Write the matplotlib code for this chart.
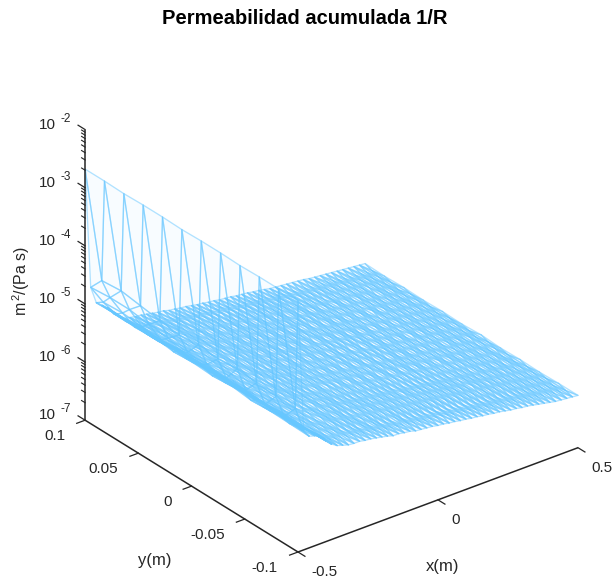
import numpy as np
import matplotlib
matplotlib.use('Agg')
import matplotlib.pyplot as plt
from mpl_toolkits.mplot3d import proj3d

plt.rcParams['font.family'] = ['Liberation Sans', 'DejaVu Sans']
plt.rcParams['mathtext.default'] = 'regular'

title = 'Permeabilidad acumulada 1/R'
x_ticks = [-0.5, 0, 0.5]
x_labels = ['-0.5', '0', '0.5']
y_ticks = [0.1, 0.05, 0, -0.05, -0.1]
y_labels = ['0.1', '0.05', '0', '-0.05', '-0.1']
z_decades = [-7, -6, -5, -4, -3, -2]

# staggered mesh: even rows sit on y_even, odd rows on y_odd (between them)
x_nodes = [-0.5, -0.475, -0.48, -0.47, -0.46, -0.45, -0.44, -0.43, -0.42, -0.41, -0.40,
           -0.39, -0.38, -0.37, -0.36, -0.35, -0.34, -0.33, -0.32, -0.31, -0.30,
           -0.29, -0.28, -0.27, -0.26, -0.25, -0.24, -0.23, -0.22, -0.21, -0.20,
           -0.19, -0.18, -0.17, -0.16, -0.15, -0.14, -0.13, -0.12, -0.11, -0.10,
           -0.09, -0.08, -0.07, -0.06, -0.05, -0.04, -0.03, -0.02, -0.01, 0.0,
           0.01, 0.02, 0.03, 0.04, 0.05, 0.06, 0.07, 0.08, 0.09, 0.10,
           0.11, 0.12, 0.13, 0.14, 0.15, 0.16, 0.17, 0.18, 0.19, 0.20,
           0.21, 0.22, 0.23, 0.24, 0.25, 0.26, 0.27, 0.28, 0.29, 0.30,
           0.31, 0.32, 0.33, 0.34, 0.35, 0.36, 0.37, 0.38, 0.39, 0.40,
           0.41, 0.42, 0.43, 0.44, 0.45, 0.46, 0.47, 0.48, 0.49, 0.50]
y_even = [0.1, 0.0818, 0.0636, 0.0455, 0.0273, 0.0091, -0.0091, -0.0273, -0.0455, -0.0636, -0.0818, -0.1]
y_odd = [0.0909, 0.0727, 0.0545, 0.0364, 0.0182, 0.0, -0.0182, -0.0364, -0.0545, -0.0727, -0.0909]

# log10 of permeability, one row per x node
log_perm = [
    [-2.68, -2.68, -2.69, -2.68, -2.68, -2.69, -2.68, -2.68, -2.69, -2.68, -2.68, -2.68],
    [-4.54, -4.51, -4.56, -4.61, -4.65, -4.61, -4.65, -4.61, -4.65, -4.68, -4.68],
    [-4.75, -4.72, -4.72, -4.77, -4.80, -4.84, -4.84, -4.87, -4.87, -4.91, -4.91, -4.94],
    [-4.92, -4.90, -4.93, -4.95, -4.93, -4.96, -4.95, -4.97, -4.96, -4.98, -4.99],
    [-5.05, -5.04, -5.06, -5.03, -5.07, -5.05, -5.07, -5.04, -5.08, -5.06, -5.07, -5.08],
    [-5.09, -5.08, -5.10, -5.07, -5.10, -5.08, -5.10, -5.08, -5.11, -5.09, -5.10],
    [-5.13, -5.13, -5.14, -5.11, -5.13, -5.09, -5.13, -5.10, -5.13, -5.11, -5.12, -5.11],
    [-5.17, -5.16, -5.17, -5.15, -5.13, -5.16, -5.14, -5.16, -5.14, -5.15, -5.13],
    [-5.21, -5.22, -5.23, -5.20, -5.20, -5.16, -5.19, -5.17, -5.20, -5.17, -5.18, -5.16],
    [-5.28, -5.27, -5.29, -5.25, -5.25, -5.22, -5.25, -5.23, -5.25, -5.23, -5.22],
    [-5.34, -5.32, -5.34, -5.30, -5.29, -5.31, -5.29, -5.31, -5.29, -5.30, -5.28, -5.27],
    [-5.39, -5.37, -5.38, -5.35, -5.35, -5.34, -5.35, -5.35, -5.33, -5.34, -5.32],
    [-5.43, -5.41, -5.42, -5.40, -5.41, -5.38, -5.41, -5.39, -5.38, -5.40, -5.37, -5.36],
    [-5.46, -5.44, -5.45, -5.42, -5.44, -5.41, -5.42, -5.42, -5.40, -5.42, -5.39],
    [-5.50, -5.47, -5.48, -5.45, -5.47, -5.45, -5.44, -5.46, -5.44, -5.45, -5.43, -5.42],
    [-5.51, -5.49, -5.50, -5.47, -5.48, -5.46, -5.47, -5.46, -5.46, -5.45, -5.44],
    [-5.52, -5.50, -5.51, -5.48, -5.49, -5.47, -5.49, -5.47, -5.48, -5.46, -5.47, -5.45],
    [-5.53, -5.51, -5.50, -5.50, -5.48, -5.49, -5.48, -5.48, -5.47, -5.47, -5.46],
    [-5.54, -5.52, -5.50, -5.52, -5.49, -5.51, -5.49, -5.50, -5.48, -5.49, -5.47, -5.48],
    [-5.55, -5.53, -5.52, -5.51, -5.51, -5.50, -5.50, -5.50, -5.49, -5.48, -5.48],
    [-5.55, -5.53, -5.54, -5.51, -5.53, -5.50, -5.52, -5.49, -5.51, -5.50, -5.48, -5.49],
    [-5.56, -5.54, -5.53, -5.53, -5.51, -5.52, -5.51, -5.50, -5.50, -5.50, -5.49],
    [-5.57, -5.54, -5.52, -5.54, -5.51, -5.53, -5.52, -5.50, -5.52, -5.49, -5.51, -5.49],
    [-5.58, -5.55, -5.54, -5.53, -5.53, -5.52, -5.52, -5.51, -5.51, -5.50, -5.50],
    [-5.59, -5.57, -5.56, -5.54, -5.56, -5.53, -5.55, -5.52, -5.54, -5.52, -5.53, -5.51],
    [-5.60, -5.58, -5.57, -5.56, -5.56, -5.54, -5.55, -5.54, -5.54, -5.53, -5.52],
    [-5.61, -5.58, -5.59, -5.56, -5.55, -5.57, -5.54, -5.56, -5.53, -5.55, -5.54, -5.52],
    [-5.62, -5.60, -5.58, -5.58, -5.56, -5.57, -5.56, -5.55, -5.55, -5.54, -5.54],
    [-5.62, -5.61, -5.58, -5.60, -5.57, -5.59, -5.56, -5.58, -5.57, -5.55, -5.57, -5.54],
    [-5.64, -5.62, -5.61, -5.59, -5.59, -5.58, -5.58, -5.58, -5.56, -5.57, -5.55],
    [-5.65, -5.62, -5.63, -5.60, -5.59, -5.61, -5.58, -5.60, -5.57, -5.59, -5.57, -5.56],
    [-5.65, -5.63, -5.62, -5.61, -5.60, -5.60, -5.60, -5.59, -5.58, -5.59, -5.57],
    [-5.66, -5.64, -5.62, -5.64, -5.61, -5.62, -5.60, -5.62, -5.59, -5.61, -5.60, -5.58],
    [-5.67, -5.65, -5.64, -5.63, -5.63, -5.61, -5.62, -5.61, -5.61, -5.60, -5.59],
    [-5.68, -5.65, -5.66, -5.63, -5.65, -5.62, -5.64, -5.61, -5.63, -5.62, -5.60, -5.61],
    [-5.69, -5.66, -5.65, -5.65, -5.63, -5.64, -5.63, -5.63, -5.62, -5.61, -5.61],
    [-5.69, -5.67, -5.65, -5.67, -5.64, -5.66, -5.63, -5.65, -5.64, -5.62, -5.64, -5.61],
    [-5.70, -5.68, -5.67, -5.66, -5.66, -5.65, -5.65, -5.65, -5.64, -5.63, -5.63],
    [-5.71, -5.68, -5.69, -5.66, -5.68, -5.65, -5.67, -5.64, -5.66, -5.64, -5.65, -5.63],
    [-5.72, -5.70, -5.68, -5.68, -5.66, -5.67, -5.67, -5.66, -5.65, -5.65, -5.64],
    [-5.73, -5.70, -5.68, -5.70, -5.67, -5.69, -5.68, -5.66, -5.68, -5.65, -5.67, -5.64],
    [-5.74, -5.71, -5.70, -5.70, -5.68, -5.69, -5.68, -5.68, -5.67, -5.66, -5.66],
    [-5.74, -5.71, -5.72, -5.69, -5.71, -5.68, -5.70, -5.67, -5.69, -5.68, -5.66, -5.67],
    [-5.75, -5.73, -5.71, -5.71, -5.69, -5.70, -5.69, -5.69, -5.69, -5.67, -5.67],
    [-5.76, -5.73, -5.71, -5.73, -5.70, -5.72, -5.69, -5.71, -5.70, -5.68, -5.70, -5.68],
    [-5.76, -5.74, -5.73, -5.72, -5.72, -5.71, -5.71, -5.71, -5.70, -5.69, -5.69],
    [-5.77, -5.74, -5.75, -5.72, -5.74, -5.71, -5.73, -5.70, -5.72, -5.70, -5.71, -5.69],
    [-5.78, -5.76, -5.74, -5.74, -5.72, -5.73, -5.72, -5.72, -5.71, -5.71, -5.70],
    [-5.79, -5.76, -5.74, -5.76, -5.73, -5.75, -5.72, -5.74, -5.73, -5.71, -5.73, -5.70],
    [-5.79, -5.77, -5.76, -5.75, -5.75, -5.74, -5.74, -5.73, -5.73, -5.72, -5.72],
    [-5.80, -5.77, -5.78, -5.75, -5.77, -5.74, -5.76, -5.73, -5.75, -5.73, -5.74, -5.72],
    [-5.81, -5.78, -5.77, -5.76, -5.76, -5.75, -5.75, -5.75, -5.74, -5.74, -5.73],
    [-5.81, -5.79, -5.77, -5.79, -5.76, -5.78, -5.75, -5.77, -5.76, -5.74, -5.76, -5.73],
    [-5.82, -5.80, -5.79, -5.78, -5.78, -5.76, -5.77, -5.76, -5.76, -5.75, -5.74],
    [-5.83, -5.80, -5.81, -5.78, -5.80, -5.77, -5.79, -5.76, -5.78, -5.76, -5.77, -5.75],
    [-5.83, -5.81, -5.79, -5.79, -5.78, -5.78, -5.78, -5.78, -5.76, -5.77, -5.75],
    [-5.84, -5.82, -5.80, -5.82, -5.79, -5.81, -5.78, -5.80, -5.79, -5.77, -5.79, -5.76],
    [-5.85, -5.82, -5.82, -5.81, -5.80, -5.80, -5.79, -5.79, -5.79, -5.78, -5.77],
    [-5.85, -5.83, -5.84, -5.81, -5.83, -5.80, -5.82, -5.79, -5.81, -5.79, -5.80, -5.78],
    [-5.86, -5.84, -5.82, -5.83, -5.81, -5.81, -5.81, -5.80, -5.80, -5.79, -5.79],
    [-5.87, -5.85, -5.83, -5.85, -5.82, -5.84, -5.81, -5.83, -5.82, -5.80, -5.82, -5.79],
    [-5.88, -5.85, -5.84, -5.84, -5.83, -5.82, -5.82, -5.82, -5.81, -5.81, -5.80],
    [-5.88, -5.86, -5.87, -5.84, -5.86, -5.83, -5.85, -5.82, -5.84, -5.82, -5.83, -5.81],
    [-5.89, -5.87, -5.85, -5.86, -5.84, -5.84, -5.84, -5.83, -5.83, -5.82, -5.82],
    [-5.90, -5.88, -5.86, -5.88, -5.85, -5.87, -5.84, -5.86, -5.85, -5.83, -5.85, -5.82],
    [-5.91, -5.88, -5.87, -5.87, -5.86, -5.85, -5.85, -5.85, -5.84, -5.84, -5.83],
    [-5.92, -5.89, -5.90, -5.87, -5.89, -5.86, -5.88, -5.85, -5.87, -5.85, -5.86, -5.84],
    [-5.93, -5.90, -5.89, -5.89, -5.87, -5.87, -5.87, -5.86, -5.86, -5.85, -5.85],
    [-5.93, -5.91, -5.89, -5.91, -5.88, -5.90, -5.87, -5.89, -5.88, -5.86, -5.88, -5.85],
    [-5.94, -5.92, -5.91, -5.90, -5.90, -5.88, -5.89, -5.88, -5.88, -5.87, -5.87],
    [-5.94, -5.92, -5.93, -5.90, -5.92, -5.89, -5.91, -5.88, -5.90, -5.88, -5.89, -5.87],
    [-5.95, -5.93, -5.92, -5.92, -5.90, -5.91, -5.90, -5.90, -5.89, -5.89, -5.88],
    [-5.95, -5.94, -5.92, -5.94, -5.91, -5.93, -5.90, -5.92, -5.91, -5.89, -5.91, -5.88],
    [-5.96, -5.95, -5.94, -5.93, -5.93, -5.92, -5.92, -5.91, -5.91, -5.90, -5.90],
    [-5.96, -5.95, -5.95, -5.93, -5.95, -5.92, -5.94, -5.91, -5.93, -5.91, -5.92, -5.90],
    [-5.97, -5.96, -5.94, -5.95, -5.93, -5.94, -5.93, -5.93, -5.92, -5.92, -5.91],
    [-5.97, -5.96, -5.94, -5.96, -5.93, -5.95, -5.93, -5.94, -5.93, -5.91, -5.93, -5.92],
    [-5.98, -5.97, -5.96, -5.95, -5.95, -5.94, -5.94, -5.94, -5.93, -5.93, -5.93],
    [-5.98, -5.97, -5.98, -5.95, -5.97, -5.94, -5.96, -5.93, -5.95, -5.93, -5.95, -5.93],
    [-5.99, -5.98, -5.97, -5.97, -5.96, -5.96, -5.95, -5.95, -5.95, -5.94, -5.94],
    [-6.00, -5.99, -5.97, -5.99, -5.96, -5.98, -5.95, -5.97, -5.96, -5.95, -5.96, -5.95],
    [-6.00, -5.99, -5.99, -5.98, -5.98, -5.97, -5.97, -5.96, -5.97, -5.96, -5.96],
    [-6.01, -5.99, -6.00, -5.97, -5.99, -5.96, -5.98, -5.96, -5.98, -5.96, -5.98, -5.96],
    [-6.01, -6.00, -5.99, -5.99, -5.98, -5.98, -5.98, -5.97, -5.98, -5.97, -5.97],
    [-6.02, -6.01, -5.99, -6.01, -5.98, -6.00, -5.98, -5.99, -5.98, -5.98, -5.99, -5.98],
    [-6.02, -6.01, -6.01, -6.00, -6.00, -5.99, -6.00, -5.99, -5.99, -5.99, -5.99],
    [-6.03, -6.01, -6.02, -6.00, -6.01, -5.99, -6.01, -5.99, -6.01, -5.99, -6.01, -6.00],
    [-6.04, -6.02, -6.02, -6.01, -6.01, -6.01, -6.00, -6.01, -6.00, -6.01, -6.01],
    [-6.04, -6.03, -6.02, -6.03, -6.01, -6.02, -6.00, -6.02, -6.01, -6.01, -6.02, -6.02],
    [-6.05, -6.03, -6.04, -6.02, -6.03, -6.01, -6.02, -6.02, -6.02, -6.02, -6.03],
    [-6.05, -6.04, -6.05, -6.03, -6.04, -6.02, -6.03, -6.02, -6.04, -6.03, -6.04, -6.04],
    [-6.06, -6.04, -6.04, -6.04, -6.03, -6.04, -6.03, -6.04, -6.03, -6.04, -6.05],
    [-6.06, -6.05, -6.04, -6.05, -6.04, -6.05, -6.03, -6.05, -6.04, -6.05, -6.05, -6.06],
    [-6.07, -6.05, -6.06, -6.05, -6.05, -6.05, -6.05, -6.05, -6.05, -6.06, -6.06],
    [-6.07, -6.06, -6.07, -6.05, -6.06, -6.05, -6.06, -6.05, -6.07, -6.06, -6.07, -6.07],
    [-6.08, -6.07, -6.07, -6.06, -6.07, -6.06, -6.07, -6.06, -6.07, -6.07, -6.08],
    [-6.08, -6.08, -6.07, -6.08, -6.07, -6.08, -6.06, -6.08, -6.07, -6.08, -6.08, -6.08],
    [-6.09, -6.09, -6.08, -6.08, -6.08, -6.08, -6.08, -6.09, -6.08, -6.09, -6.09],
    [-6.09, -6.09, -6.10, -6.08, -6.09, -6.08, -6.09, -6.08, -6.10, -6.09, -6.10, -6.09],
    [-6.10, -6.10, -6.09, -6.10, -6.09, -6.10, -6.09, -6.10, -6.10, -6.10, -6.10],
    [-6.10, -6.11, -6.10, -6.11, -6.10, -6.11, -6.09, -6.11, -6.10, -6.11, -6.10, -6.10],
]

W, H = 612, 579
AXC = '#262626'
EDGE = (0.40, 0.78, 1.0, 0.5)
FACE = (0.55, 0.82, 1.0, 0.06)

fig = plt.figure(figsize=(W / 100, H / 100), dpi=100)
ax = fig.add_axes([0, 0, 1, 1], projection='3d', proj_type='ortho', computed_zorder=False)
ax.set_box_aspect((354, 347, 331))
ax.view_init(elev=28.7, azim=-127.8)
ax.set_xlim(-0.5, 0.5, view_margin=0)
ax.set_ylim(-0.1, 0.1, view_margin=0)
ax.set_zlim(-7, -2, view_margin=0)
ax.set_axis_off()

# put the box where it is in the picture: corner (-0.5,-0.1,-7) at px (298,552)
M = ax.get_proj()
def to_axes(x, y, z):
    px, py, _ = proj3d.proj_transform(x, y, z, M)
    return ax.transLimits.transform((px, py))
c0 = to_axes(-0.5, -0.1, -7)
c1 = to_axes(0.5, -0.1, -7)
size = 280 / (c1[0] - c0[0])
left = 298 - size * c0[0]
bottom = (H - 552) - size * c0[1]
ax.set_position([left / W, bottom / H, size / W, size / H])

def put_text(x, y, z, dx, dy, s, **kw):
    # text next to a point of the box, dx, dy in pixels (dy downward)
    a = to_axes(x, y, z)
    fx = (left + size * a[0] + dx) / W
    fy = (bottom + size * a[1] - dy) / H
    fig.text(fx, fy, s, va='center', color=AXC, **kw)

xg, yg, starts = [], [], []
for i, xv in enumerate(x_nodes):
    ys = y_even if i % 2 == 0 else y_odd
    starts.append(len(xg))
    xg += [xv] * len(ys)
    yg += ys
zg = np.concatenate(log_perm)

tris = []
for i in range(0, len(x_nodes) - 2, 2):
    e0, o, e1 = starts[i], starts[i + 1], starts[i + 2]
    for k in range(11):
        tris.append([e0 + k, e0 + k + 1, o + k])
        tris.append([e1 + k, e1 + k + 1, o + k])
    for k in range(10):
        tris.append([e0 + k + 1, o + k, o + k + 1])
        tris.append([e1 + k + 1, o + k, o + k + 1])
    # the two ends of the strip
    tris.append([e0, o, e1])
    tris.append([e0 + 11, o + 10, e1 + 11])

ax.plot_trisurf(xg, yg, tris, zg, color=FACE, edgecolor=EDGE, linewidth=0.95, shade=False, zorder=1)

# axis lines and ticks
ax.plot([-0.5, 0.5], [-0.1, -0.1], [-7, -7], color=AXC, lw=1.1, zorder=5, solid_capstyle='butt')
ax.plot([-0.5, -0.5], [-0.1, 0.1], [-7, -7], color=AXC, lw=1.1, zorder=5, solid_capstyle='butt')
ax.plot([-0.5, -0.5], [0.1, 0.1], [-7, -2], color=AXC, lw=1.1, zorder=5, solid_capstyle='butt')

for v in x_ticks:
    ax.plot([v, v], [-0.1, -0.1065], [-7, -7], color=AXC, lw=0.9, zorder=5, clip_on=False)
for v in y_ticks:
    ax.plot([-0.5, -0.53], [v, v], [-7, -7], color=AXC, lw=0.9, zorder=5, clip_on=False)
for d in z_decades:
    ax.plot([-0.5, -0.5], [0.1, 0.1066], [d, d], color=AXC, lw=0.9, zorder=5, clip_on=False)
    if d < -2:
        for m in range(2, 10):
            zm = d + np.log10(m)
            ax.plot([-0.5, -0.5], [0.1, 0.1033], [zm, zm], color=AXC, lw=0.8, zorder=5, clip_on=False)

# tick labels
for v, s in zip(x_ticks, x_labels):
    put_text(v, -0.1, -7, 13, 20, s, ha='left', fontsize=11)
for v, s in zip(y_ticks, y_labels):
    put_text(-0.5, v, -7, -20, 16, s, ha='right', fontsize=11)
for d in z_decades:
    put_text(-0.5, 0.1, d, -29, -5, '10', ha='right', fontsize=11)
    put_text(-0.5, 0.1, d, -25, -11, str(d), ha='left', fontsize=8.5)

fig.text(304.5 / W, 1 - 18 / H, title, ha='center', va='center', fontsize=14.5, fontweight='bold', color='black')
fig.text(154.5 / W, 1 - 560 / H, 'y(m)', ha='center', va='center', fontsize=12, color=AXC)
fig.text(442.5 / W, 1 - 567 / H, 'x(m)', ha='center', va='center', fontsize=12, color=AXC)
fig.text(21 / W, 1 - 281 / H, 'm$^{\\,2}$/(Pa s)', ha='center', va='center', rotation=90, fontsize=11.5, color=AXC)

fig.savefig('out.png', dpi=100)
